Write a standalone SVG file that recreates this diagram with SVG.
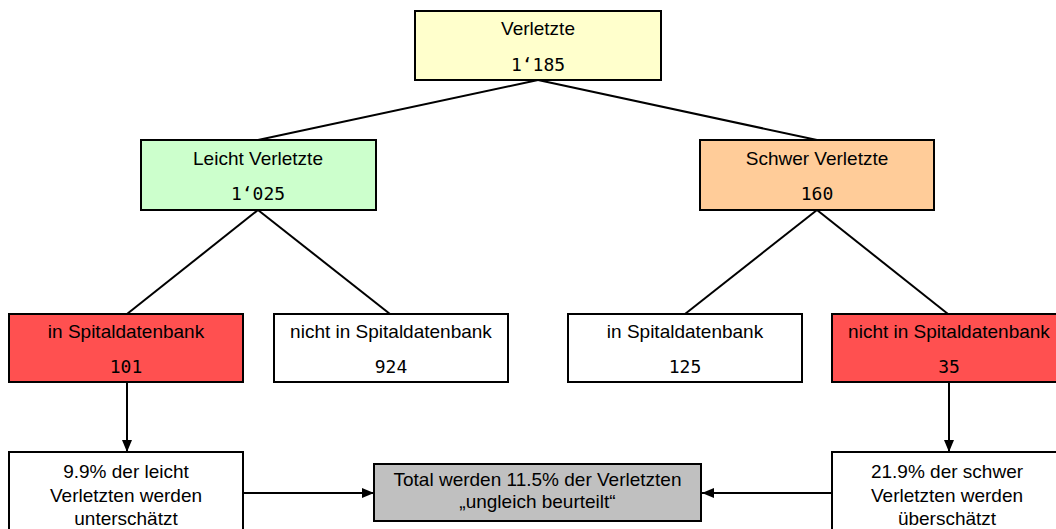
<svg xmlns="http://www.w3.org/2000/svg" width="1056" height="529" viewBox="0 0 1056 529">
<defs>
<style>
.box{stroke:#000;stroke-width:2}
.lbl{font-family:"Liberation Sans",Arial,sans-serif;font-size:19px;fill:#000;text-anchor:middle}
.num{font-family:"DejaVu Sans Mono",monospace;font-size:18px;fill:#000;text-anchor:middle}
.con{stroke:#000;stroke-width:2;fill:none}
</style>
<marker id="ah" viewBox="0 0 12 10" refX="12" refY="5" markerWidth="12" markerHeight="10" markerUnits="userSpaceOnUse" orient="auto">
<path d="M0,0 L12,5 L0,10 Z" fill="#000"/>
</marker>
</defs>
<rect width="1056" height="529" fill="#fff"/>
<g id="connectors">
<line class="con" x1="538" y1="80" x2="258" y2="140"/>
<line class="con" x1="538" y1="80" x2="817" y2="140"/>
<line class="con" x1="258" y1="210" x2="127" y2="314"/>
<line class="con" x1="258" y1="210" x2="390" y2="314"/>
<line class="con" x1="817" y1="210" x2="685" y2="314"/>
<line class="con" x1="817" y1="210" x2="948" y2="314"/>
<line class="con" x1="127" y1="382" x2="127" y2="452" marker-end="url(#ah)"/>
<line class="con" x1="949" y1="382" x2="949" y2="452" marker-end="url(#ah)"/>
<line class="con" x1="243" y1="493" x2="374" y2="493" marker-end="url(#ah)"/>
<line class="con" x1="832" y1="493" x2="702" y2="493" marker-end="url(#ah)"/>
</g>
<g id="node-verletzte">
<rect class="box" x="415" y="11" width="246" height="69" fill="#FFFFCC"/>
<text class="lbl" x="538" y="35">Verletzte</text>
<text class="num" x="538" y="71">1‘185</text>
</g>
<g id="node-leicht">
<rect class="box" x="141" y="140" width="235" height="70" fill="#CCFFCC"/>
<text class="lbl" x="258" y="165">Leicht Verletzte</text>
<text class="num" x="258" y="200">1‘025</text>
</g>
<g id="node-schwer">
<rect class="box" x="700" y="140" width="234" height="70" fill="#FFCC99"/>
<text class="lbl" x="817" y="165">Schwer Verletzte</text>
<text class="num" x="817" y="200">160</text>
</g>
<g id="node-leicht-in">
<rect class="box" x="9" y="314" width="234" height="68" fill="#FF5050"/>
<text class="lbl" x="126" y="338">in Spitaldatenbank</text>
<text class="num" x="126" y="373">101</text>
</g>
<g id="node-leicht-nicht">
<rect class="box" x="274" y="314" width="234" height="68" fill="#FFFFFF"/>
<text class="lbl" x="391" y="338">nicht in Spitaldatenbank</text>
<text class="num" x="391" y="373">924</text>
</g>
<g id="node-schwer-in">
<rect class="box" x="568" y="314" width="234" height="68" fill="#FFFFFF"/>
<text class="lbl" x="685" y="338">in Spitaldatenbank</text>
<text class="num" x="685" y="373">125</text>
</g>
<g id="node-schwer-nicht">
<rect class="box" x="832" y="314" width="234" height="68" fill="#FF5050"/>
<text class="lbl" x="949" y="338">nicht in Spitaldatenbank</text>
<text class="num" x="949" y="373">35</text>
</g>
<g id="node-unterschaetzt">
<rect class="box" x="9" y="452" width="234" height="90" fill="#FFFFFF"/>
<text class="lbl" x="126" y="478">9.9% der leicht</text>
<text class="lbl" x="126" y="501.5">Verletzten werden</text>
<text class="lbl" x="126" y="525">unterschätzt</text>
</g>
<g id="node-total">
<rect class="box" x="374" y="464" width="327" height="57" fill="#C0C0C0"/>
<text class="lbl" x="537.5" y="486">Total werden 11.5% der Verletzten</text>
<text class="lbl" x="537.5" y="507.5">„ungleich beurteilt“</text>
</g>
<g id="node-ueberschaetzt">
<rect class="box" x="832" y="452" width="234" height="90" fill="#FFFFFF"/>
<text class="lbl" x="947" y="478">21.9% der schwer</text>
<text class="lbl" x="947" y="501.5">Verletzten werden</text>
<text class="lbl" x="947" y="525">überschätzt</text>
</g>
</svg>
